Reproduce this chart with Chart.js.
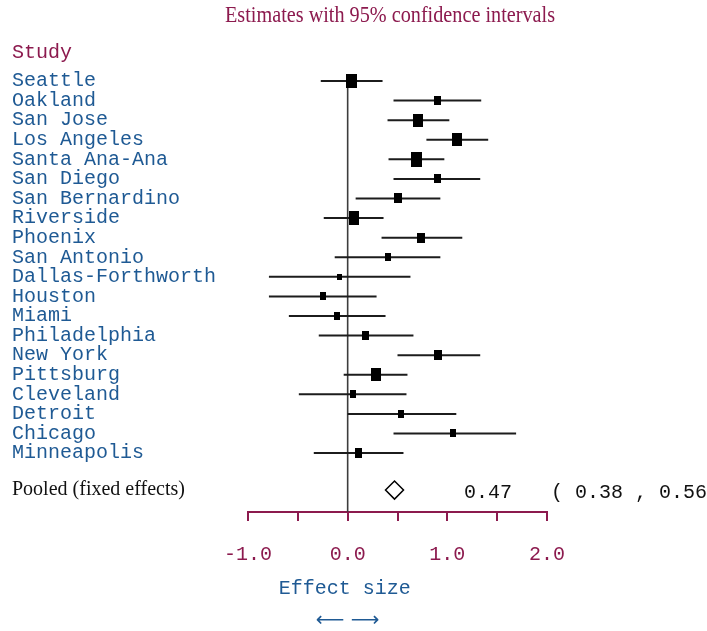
<!DOCTYPE html>
<html>
<head>
<meta charset="utf-8">
<script src="https://cdn.jsdelivr.net/npm/chart.js@4"></script>
<style>
  body { margin: 0; background: #fff; }
  .wrap { width: 707px; height: 631px; position: relative; }
</style>
</head>
<body>
<div class="wrap"><canvas id="forest"></canvas></div>
<script>
// Study data (effect size estimates with 95% CI)
const studies = [
  "Seattle", "Oakland", "San Jose", "Los Angeles", "Santa Ana-Ana",
  "San Diego", "San Bernardino", "Riverside", "Phoenix", "San Antonio",
  "Dallas-Forthworth", "Houston", "Miami", "Philadelphia", "New York",
  "Pittsburg", "Cleveland", "Detroit", "Chicago", "Minneapolis"
];
const estimates = [0.04, 0.90, 0.71, 1.10, 0.69, 0.90, 0.50, 0.06, 0.74, 0.40,
                   -0.08, -0.25, -0.11, 0.18, 0.91, 0.28, 0.05, 0.54, 1.06, 0.11];
const lower = [-0.27, 0.46, 0.40, 0.79, 0.41, 0.46, 0.08, -0.24, 0.34, -0.13,
               -0.79, -0.79, -0.59, -0.29, 0.50, -0.04, -0.49, 0.00, 0.46, -0.34];
const upper = [0.35, 1.34, 1.02, 1.41, 0.97, 1.33, 0.93, 0.36, 1.15, 0.93,
               0.63, 0.29, 0.38, 0.66, 1.33, 0.60, 0.59, 1.09, 1.69, 0.56];
// relative study weights (drive the box size)
const weights = [10.5, 7, 10, 10, 11.3, 7, 7.7, 10.3, 7.7, 6,
                 4.7, 6.3, 6.3, 7, 7.7, 9.7, 6.3, 6.3, 5.7, 7.3];
const pooled = 0.47;
const pooledLower = 0.38;
const pooledUpper = 0.56;
const xTicks = [-1.0, -0.5, 0.0, 0.5, 1.0, 1.5, 2.0];

const crimson = "#8c1a4e";
const blue = "#1f5a94";
const mono = "Liberation Mono";
const serif = "Liberation Serif";

// row positions on the y scale
const headerRow = -1.43;
const pooledRow = 20.89;

function box(w) {
  const c = document.createElement("canvas");
  c.width = Math.round(w);
  c.height = Math.round(w * 1.32);
  const g = c.getContext("2d");
  g.fillStyle = "#000";
  g.fillRect(0, 0, c.width, c.height);
  return c;
}

const ciSets = studies.map((s, i) => ({
  type: "line",
  data: [{ x: lower[i], y: i }, { x: upper[i], y: i }],
  borderColor: "#1c1c1c",
  borderWidth: 2,
  pointRadius: 0,
  order: 2
}));

const rowLabels = {};
rowLabels[headerRow] = "Study";
studies.forEach((s, i) => { rowLabels[i] = s; });
rowLabels[pooledRow] = "Pooled (fixed effects)";

const extras = {
  id: "extras",
  beforeDatasetsDraw(chart) {
    const { ctx, chartArea } = chart;
    const x = chart.scales.x.getPixelForValue(0);
    const y = chart.scales.y;
    ctx.save();
    ctx.strokeStyle = "#3c3c3c";
    ctx.lineWidth = 1.6;
    ctx.beginPath();
    ctx.moveTo(x, y.getPixelForValue(-0.36));
    ctx.lineTo(x, chartArea.bottom);
    ctx.stroke();
    ctx.restore();
  },
  afterDraw(chart) {
    const { ctx, chartArea } = chart;
    const x0 = chart.scales.x.getPixelForValue(0);
    const py = chart.scales.y.getPixelForValue(pooledRow);
    ctx.save();
    // title (slightly condensed, like the original)
    ctx.font = "24px '" + serif + "'";
    ctx.fillStyle = crimson;
    ctx.textAlign = "center";
    ctx.textBaseline = "middle";
    ctx.fillText("Estimates with 95% confidence intervals", 390, 16, 330);

    ctx.font = "20px '" + mono + "'";
    ctx.fillStyle = "#111";
    ctx.textAlign = "left";
    ctx.fillText(pooled.toFixed(2), chartArea.right - 83, py + 3);
    ctx.fillText("( " + pooledLower.toFixed(2) + " , " + pooledUpper.toFixed(2) + " )",
                 chartArea.right + 4, py + 3);
    ctx.fillStyle = blue;
    ctx.textAlign = "center";
    ctx.fillText("Effect size", x0 - 3, 589);
    ctx.font = "20px 'DejaVu Sans'";
    ctx.fillText("\u27F5 \u27F6", x0, 621);
    ctx.restore();
  }
};

new Chart(document.getElementById("forest"), {
  data: {
    datasets: [
      ...ciSets,
      {
        type: "scatter",
        data: estimates.map((v, i) => ({ x: v, y: i })),
        pointStyle: weights.map(box),
        pointRadius: 5,
        order: 1
      },
      {
        type: "scatter",
        data: [{ x: pooled, y: pooledRow }],
        pointStyle: "rectRot",
        pointRadius: 9,
        backgroundColor: "#fff",
        borderColor: "#000",
        borderWidth: 1.5,
        order: 0
      }
    ]
  },
  options: {
    responsive: true,
    maintainAspectRatio: false,
    animation: false,
    layout: { padding: { left: 12, right: 160, top: 43, bottom: 42 } },
    plugins: {
      legend: { display: false },
      tooltip: { enabled: false },
      title: { display: false }
    },
    scales: {
      x: {
        type: "linear",
        position: "bottom",
        min: -1,
        max: 2,
        afterBuildTicks: (s) => { s.ticks = xTicks.map(v => ({ value: v })); },
        ticks: {
          color: crimson,
          font: { family: mono, size: 20 },
          padding: 22,
          maxRotation: 0,
          autoSkip: false,
          callback: (v) => (v % 1 === 0 ? v.toFixed(1) : "")
        },
        grid: { drawOnChartArea: false, color: crimson, lineWidth: 2, tickLength: 9 },
        border: { color: crimson, width: 2 }
      },
      y: {
        type: "linear",
        reverse: true,
        min: -1.94,
        max: 22.01,
        afterFit: (s) => { s.width = 236; },
        afterBuildTicks: (s) => {
          s.ticks = [headerRow, ...studies.map((_, i) => i), pooledRow].map(v => ({ value: v }));
        },
        ticks: {
          crossAlign: "far",
          autoSkip: false,
          padding: 0,
          callback: (v) => rowLabels[v],
          color: (c) => (c.tick.value === headerRow ? crimson : c.tick.value === pooledRow ? "#111" : blue),
          font: (c) => (c.tick && c.tick.value === pooledRow
            ? { family: serif, size: 20 }
            : { family: mono, size: 20 })
        },
        grid: { display: false },
        border: { display: false }
      }
    }
  },
  plugins: [extras]
});
</script>
</body>
</html>
